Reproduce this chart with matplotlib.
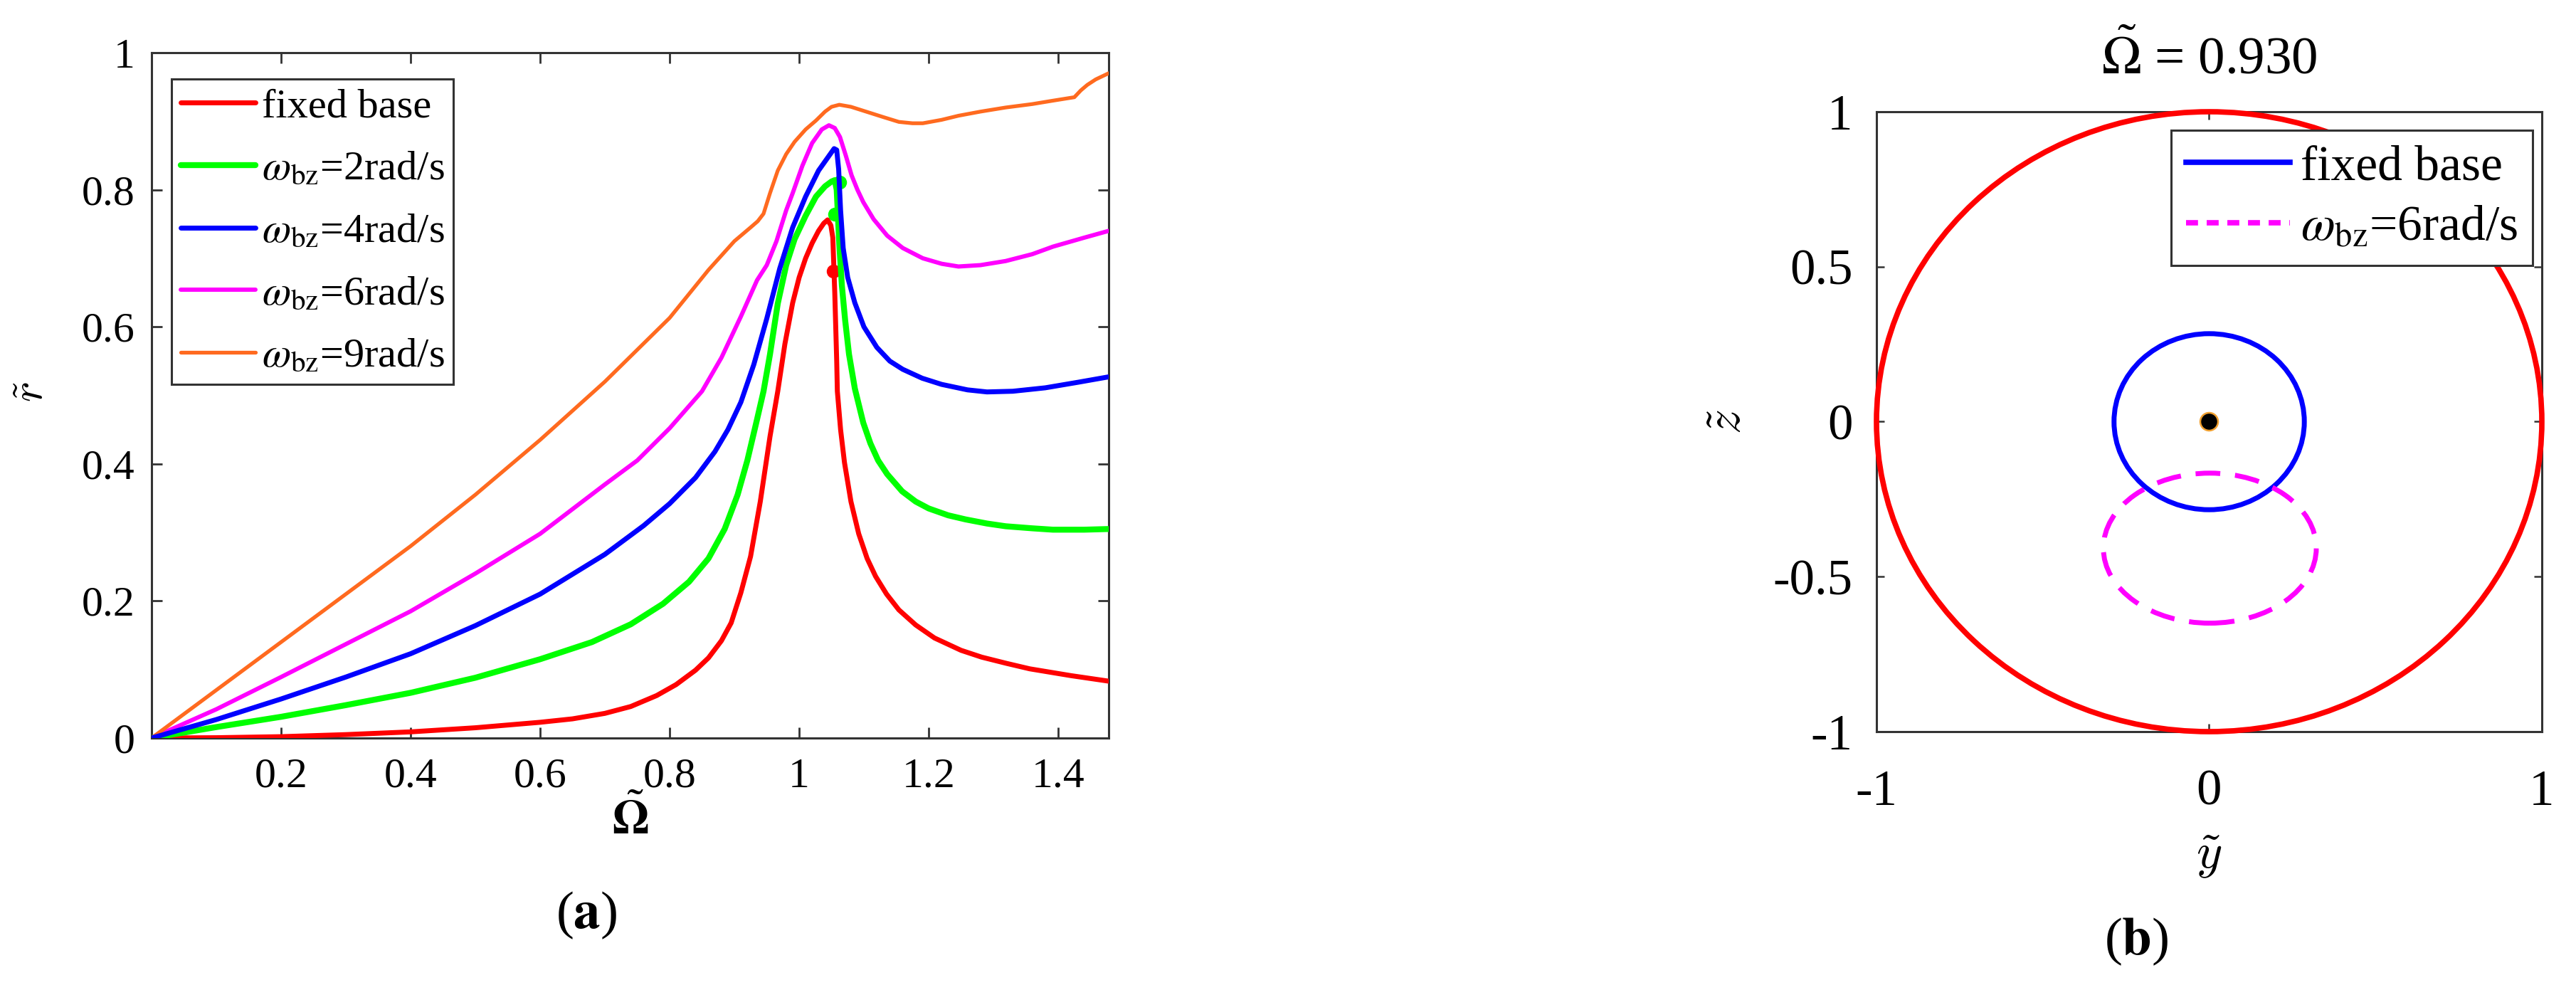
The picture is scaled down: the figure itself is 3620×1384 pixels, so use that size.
import matplotlib
matplotlib.use("Agg")
import matplotlib.pyplot as plt
from matplotlib.patches import Ellipse

plt.rcParams['font.family'] = ['Liberation Serif', 'DejaVu Serif']
plt.rcParams['mathtext.fontset'] = 'stix'
plt.rcParams['axes.unicode_minus'] = False

# ---- (a) amplitude curves r~ vs Omega~ ----
red_x = [0.0, 0.1, 0.2, 0.3, 0.4, 0.5, 0.6, 0.65, 0.7, 0.74, 0.78, 0.81, 0.84, 0.86, 0.88, 0.895,
         0.91, 0.925, 0.94, 0.955, 0.967, 0.978, 0.99, 1.0, 1.01, 1.02, 1.03, 1.038, 1.044, 1.049,
         1.052, 1.055, 1.058, 1.059, 1.064, 1.07, 1.08, 1.092, 1.105, 1.118, 1.135, 1.154, 1.18,
         1.209, 1.25, 1.282, 1.32, 1.356, 1.42, 1.478]
red_y = [0.0, 0.0005, 0.002, 0.005, 0.009, 0.015, 0.023, 0.028, 0.036, 0.046, 0.062, 0.078, 0.099,
         0.117, 0.142, 0.168, 0.212, 0.265, 0.345, 0.44, 0.506, 0.575, 0.635, 0.672, 0.70, 0.722,
         0.74, 0.751, 0.756, 0.748, 0.73, 0.65, 0.55, 0.506, 0.45, 0.402, 0.345, 0.298, 0.262,
         0.236, 0.21, 0.187, 0.165, 0.146, 0.128, 0.118, 0.109, 0.101, 0.091, 0.083]

green_x = [0.0, 0.1, 0.2, 0.3, 0.4, 0.5, 0.6, 0.68, 0.74, 0.79, 0.83, 0.86, 0.885, 0.905, 0.92,
           0.935, 0.945, 0.955, 0.967, 0.98, 0.993, 1.01, 1.026, 1.04, 1.05, 1.055, 1.058, 1.062,
           1.066, 1.071, 1.077, 1.086, 1.099, 1.11, 1.122, 1.136, 1.159, 1.18, 1.2, 1.23, 1.257,
           1.29, 1.319, 1.36, 1.392, 1.44, 1.478]
green_y = [0.0, 0.016, 0.031, 0.048, 0.066, 0.088, 0.115, 0.14, 0.166, 0.196, 0.228, 0.262, 0.305,
           0.355, 0.405, 0.465, 0.506, 0.56, 0.634, 0.69, 0.728, 0.762, 0.79, 0.805, 0.812, 0.814,
           0.80, 0.72, 0.66, 0.61, 0.56, 0.51, 0.46, 0.43, 0.405, 0.385, 0.36, 0.345, 0.335, 0.325,
           0.319, 0.313, 0.309, 0.306, 0.304, 0.304, 0.305]

blue_x = [0.0, 0.1, 0.2, 0.3, 0.4, 0.5, 0.6, 0.7, 0.76, 0.8, 0.84, 0.87, 0.89, 0.91, 0.93, 0.95,
          0.97, 0.99, 1.01, 1.03, 1.045, 1.054, 1.058, 1.061, 1.064, 1.068, 1.075, 1.086, 1.1,
          1.12, 1.14, 1.16, 1.19, 1.22, 1.26, 1.29, 1.33, 1.38, 1.43, 1.478]
blue_y = [0.0, 0.027, 0.057, 0.089, 0.123, 0.164, 0.21, 0.268, 0.31, 0.342, 0.38, 0.418, 0.45,
          0.49, 0.545, 0.612, 0.685, 0.745, 0.79, 0.828, 0.848, 0.86, 0.858, 0.83, 0.77, 0.715,
          0.672, 0.635, 0.60, 0.57, 0.55, 0.538, 0.525, 0.516, 0.508, 0.505, 0.506, 0.511, 0.519,
          0.527]

magenta_x = [0.0, 0.1, 0.2, 0.3, 0.4, 0.5, 0.6, 0.7, 0.75, 0.8, 0.85, 0.88, 0.91, 0.935, 0.95,
             0.965, 0.98, 0.99, 1.005, 1.02, 1.035, 1.046, 1.055, 1.063, 1.072, 1.081, 1.09, 1.099,
             1.115, 1.136, 1.16, 1.191, 1.22, 1.246, 1.28, 1.319, 1.36, 1.392, 1.44, 1.478]
magenta_y = [0.0, 0.042, 0.089, 0.137, 0.185, 0.24, 0.298, 0.37, 0.405, 0.452, 0.506, 0.555, 0.615,
             0.668, 0.69, 0.725, 0.77, 0.795, 0.835, 0.868, 0.888, 0.894, 0.89, 0.877, 0.85, 0.821,
             0.80, 0.782, 0.757, 0.733, 0.715, 0.70, 0.692, 0.688, 0.69, 0.696, 0.706, 0.717, 0.73,
             0.74]

orange_x = [0.0, 0.1, 0.2, 0.3, 0.4, 0.5, 0.6, 0.7, 0.8, 0.86, 0.9, 0.925, 0.936, 0.945, 0.955,
            0.967, 0.98, 0.993, 1.01, 1.026, 1.04, 1.05, 1.062, 1.08, 1.1, 1.13, 1.154, 1.175,
            1.191, 1.22, 1.246, 1.28, 1.319, 1.36, 1.392, 1.425, 1.435, 1.445, 1.458, 1.478]
orange_y = [0.0, 0.07, 0.14, 0.21, 0.28, 0.355, 0.435, 0.52, 0.613, 0.683, 0.725, 0.745, 0.754, 0.765,
            0.795, 0.828, 0.852, 0.87, 0.888, 0.901, 0.914, 0.921, 0.924, 0.921, 0.915, 0.906, 0.899,
            0.897, 0.897, 0.902, 0.908, 0.914, 0.92, 0.925, 0.93, 0.935, 0.945, 0.953, 0.961, 0.97]

# jump points marked with dots
red_dot_x, red_dot_y = [1.053], [0.681]
green_dot_x, green_dot_y = [1.063, 1.055], [0.811, 0.764]

labels_a = ["fixed base", r"$\omega_{\rm bz}$=2rad/s", r"$\omega_{\rm bz}$=4rad/s",
            r"$\omega_{\rm bz}$=6rad/s", r"$\omega_{\rm bz}$=9rad/s"]

# ---- (b) orbits in the y~-z~ plane (center y, center z, half-width, half-height) ----
wall = [0.0, 0.0, 1.0, 1.0]
orbit_fixed = [0.0, 0.0, 0.286, 0.284]
orbit_w6 = [0.002, -0.408, 0.32, 0.242]
center_pt = [0.0, 0.0]

fig = plt.figure(figsize=(36.2, 13.84), dpi=100)
ax1 = fig.add_axes([0.05884, 0.25072, 0.37155, 0.69581])
ax2 = fig.add_axes([0.72845, 0.25723, 0.25829, 0.62933])

c_red, c_green, c_blue, c_mag, c_orange = "#FF0000", "#00FF00", "#0000FF", "#FF00FF", "#FF6A1F"

line_kw = dict(solid_joinstyle="round", solid_capstyle="round")
ax1.plot(red_x, red_y, color=c_red, lw=5, label=labels_a[0], zorder=3, **line_kw)
ax1.plot(green_x, green_y, color=c_green, lw=6, label=labels_a[1], zorder=4, **line_kw)
ax1.plot(blue_x, blue_y, color=c_blue, lw=5, label=labels_a[2], zorder=5, **line_kw)
ax1.plot(magenta_x, magenta_y, color=c_mag, lw=4.3, label=labels_a[3], zorder=4, **line_kw)
ax1.plot(orange_x, orange_y, color=c_orange, lw=3.8, label=labels_a[4], zorder=4, **line_kw)
ax1.plot(red_dot_x, red_dot_y, "o", color=c_red, ms=13, zorder=2)
ax1.plot(green_dot_x, green_dot_y, "o", color=c_green, ms=13, zorder=3)

ax1.set_xlim(0, 1.478)
ax1.set_ylim(0, 1)
ax1.set_xticks([0.2, 0.4, 0.6, 0.8, 1.0, 1.2, 1.4])
ax1.set_xticklabels(["0.2", "0.4", "0.6", "0.8", "1", "1.2", "1.4"])
ax1.set_yticks([0, 0.2, 0.4, 0.6, 0.8, 1.0])
ax1.set_yticklabels(["0", "0.2", "0.4", "0.6", "0.8", "1"])
ax1.tick_params(axis="both", direction="in", top=True, right=True, length=11, width=2,
                labelsize=43, color="#333333")
ax1.tick_params(axis="x", pad=20)
ax1.tick_params(axis="y", pad=17)
ax1.set_xlabel(r"$\tilde{\mathbf{\Omega}}$", fontsize=48, va="center")
ax1.xaxis.set_label_coords(0.5, -0.12)
ax1.set_ylabel(r"$\tilde{r}$", fontsize=44, va="center", math_fontfamily="cm")
ax1.yaxis.set_label_coords(-0.125, 0.505)

leg1 = ax1.legend(loc="upper left", bbox_to_anchor=(0.0209, 0.962), borderaxespad=0,
                  fontsize=42, handlelength=1.8, handletextpad=0.15, labelspacing=0.6,
                  borderpad=0.22, fancybox=False, framealpha=1, edgecolor="#333333")
leg1.get_frame().set_linewidth(2.2)

# (b)
ax2.add_patch(Ellipse((wall[0], wall[1]), 2 * wall[2], 2 * wall[3], fill=False,
                      ec=c_red, lw=5.5, clip_on=False, zorder=3))
ax2.add_patch(Ellipse((orbit_fixed[0], orbit_fixed[1]), 2 * orbit_fixed[2], 2 * orbit_fixed[3],
                      fill=False, ec=c_blue, lw=5, zorder=3))
ax2.add_patch(Ellipse((orbit_w6[0], orbit_w6[1]), 2 * orbit_w6[2], 2 * orbit_w6[3],
                      fill=False, ec=c_mag, lw=5, ls=(0, (5.0, 3.0)), zorder=3))
ax2.plot([center_pt[0]], [center_pt[1]], "o", color="black", mec="#F0A030", mew=1.8, ms=18, zorder=5)
# legend proxies
ax2.plot([], [], color=c_blue, lw=5.5, label="fixed base")
ax2.plot([], [], color=c_mag, lw=5.5, ls=(0, (2.2, 1.6)), label=r"$\omega_{\rm bz}$=6rad/s")

ax2.set_xlim(-1, 1)
ax2.set_ylim(-1, 1)
ax2.set_xticks([-1, 0, 1])
ax2.set_xticklabels(["-1", "0", "1"])
ax2.set_yticks([-1, -0.5, 0, 0.5, 1])
ax2.set_yticklabels(["-1", "-0.5", "0", "0.5", "1"])
ax2.tick_params(axis="both", direction="in", top=True, right=True, length=8, width=1.8,
                labelsize=51, color="#333333")
ax2.tick_params(axis="x", pad=38)
ax2.tick_params(axis="y", pad=24)
ax2.set_xlabel(r"$\tilde{y}$", fontsize=50, va="center", math_fontfamily="cm")
ax2.xaxis.set_label_coords(0.5, -0.203)
ax2.set_ylabel(r"$\tilde{z}$", fontsize=50, va="center", math_fontfamily="cm")
ax2.yaxis.set_label_coords(-0.222, 0.5)
ax2.text(0.5, 1.085, r"$\tilde{\Omega}$ = 0.930", transform=ax2.transAxes, ha="center",
         va="center", fontsize=54)

leg2 = ax2.legend(loc="upper right", bbox_to_anchor=(0.9861, 0.9702), borderaxespad=0,
                  fontsize=50, handlelength=2.1, handletextpad=0.22, labelspacing=0.3,
                  borderpad=0.3, fancybox=False, framealpha=1, edgecolor="#333333")
leg2.get_frame().set_linewidth(2.2)

for ax in (ax1, ax2):
    for s in ax.spines.values():
        s.set_linewidth(2.2)
        s.set_color("#333333")

fig.text(0.2276, 0.0708, r"($\mathbf{a}$)", ha="center", va="center", fontsize=54)
fig.text(0.8293, 0.0441, r"($\mathbf{b}$)", ha="center", va="center", fontsize=54)

fig.savefig("out.png", dpi=100, facecolor="white")
